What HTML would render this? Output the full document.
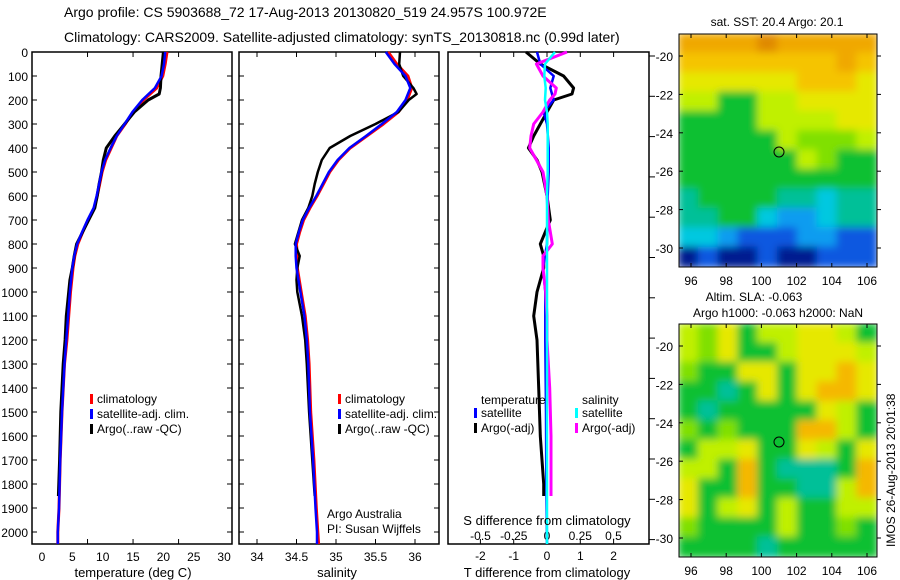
<!DOCTYPE html>
<html><head><meta charset="utf-8">
<style>
html,body{margin:0;padding:0;background:#fff;}
svg{display:block;font-family:"Liberation Sans",sans-serif;}
text{fill:#000;}
</style></head>
<body>
<svg id="fig" width="900" height="580" viewBox="0 0 900 580" xmlns="http://www.w3.org/2000/svg">
<defs>
<filter id="blur" x="0" y="0" width="1" height="1"><feGaussianBlur stdDeviation="4"/></filter>
<clipPath id="clip1"><rect x="679" y="34" width="198" height="233"/></clipPath>
<clipPath id="clip2"><rect x="679" y="324" width="198" height="233"/></clipPath>
</defs>
<text x="64" y="17" font-size="14">Argo profile: CS 5903688_72 17-Aug-2013 20130820_519 24.957S 100.972E</text>
<text x="64" y="42" font-size="14">Climatology: CARS2009. Satellite-adjusted climatology: synTS_20130818.nc (0.99d later)</text>
<g id="p1"></g>
<g id="p2"></g>
<g id="p3"></g>
<g id="m1"></g>
<g id="m2"></g>
<text x="133" y="577" font-size="13" text-anchor="middle">temperature (deg C)</text>
<text x="337" y="577" font-size="13" text-anchor="middle">salinity</text>
<text x="547" y="577" font-size="13" text-anchor="middle">T difference from climatology</text>
<text x="547" y="525" font-size="13" text-anchor="middle">S difference from climatology</text>
<text x="327" y="518" font-size="12">Argo Australia</text>
<text x="327" y="533" font-size="12">PI: Susan Wijffels</text>
<text x="777" y="26" font-size="12" text-anchor="middle">sat. SST: 20.4 Argo: 20.1</text>
<text x="754" y="301" font-size="12" text-anchor="middle">Altim. SLA: -0.063</text>
<text x="778" y="317" font-size="12" text-anchor="middle">Argo h1000: -0.063 h2000: NaN</text>
<text transform="translate(895,547) rotate(-90)" font-size="12">IMOS 26-Aug-2013 20:01:38</text>
</svg>
<script>
// ---- data ----
const depthClim = [0,50,100,150,200,250,300,350,400,450,500,550,600,650,700,750,800,850,900,1000,1100,1200,1300,1500,1700,1900,2000,2050];
const tempClim = [20.6,20.3,19.9,18.9,16.7,15.0,13.7,12.3,11.4,10.5,9.9,9.5,9.1,8.6,7.6,6.7,5.9,5.4,5.1,4.7,4.4,4.1,3.7,3.3,3.0,2.8,2.6,2.6];
const tempSat = [20.3,20.1,19.7,18.6,16.5,14.9,13.6,12.3,11.3,10.4,9.8,9.4,9.0,8.5,7.5,6.6,5.8,5.3,5.0,4.6,4.3,4.0,3.7,3.3,3.0,2.8,2.6,2.6];
const salClim = [35.66,35.77,35.91,35.96,35.90,35.79,35.60,35.39,35.18,35.03,34.92,34.84,34.76,34.67,34.59,34.54,34.50,34.51,34.51,34.56,34.61,34.64,34.66,34.68,34.72,34.75,34.77,34.78];
const salSat = [35.63,35.74,35.88,35.94,35.88,35.77,35.58,35.38,35.17,35.02,34.91,34.83,34.75,34.66,34.58,34.53,34.49,34.49,34.50,34.55,34.60,34.63,34.65,34.67,34.71,34.74,34.76,34.76];
const depthArgo = [0,50,100,150,175,200,250,300,350,400,450,500,550,600,650,700,800,850,900,950,1000,1100,1200,1300,1500,1700,1850];
const tempArgo = [20.0,19.8,19.6,19.5,19.3,17.5,15.2,13.6,12.0,10.6,10.1,9.8,9.4,9.1,8.7,7.7,5.7,5.3,5.0,4.6,4.4,4.0,3.8,3.5,3.1,2.9,2.7];
const salArgo = [35.81,35.80,35.85,35.98,36.02,35.92,35.79,35.50,35.18,34.92,34.82,34.77,34.73,34.70,34.65,34.57,34.48,34.54,34.51,34.50,34.51,34.57,34.61,34.63,34.66,34.70,34.73];
const depthDiff = [0,50,100,150,175,200,250,300,350,400,450,500,600,700,800,850,900,1000,1100,1200,1400,1600,1800,1850];
const tDiffArgo = [-0.63,-0.2,0.5,0.8,0.75,0.2,0,-0.2,-0.4,-0.56,-0.3,-0.15,0,0.1,-0.2,-0.1,-0.1,-0.3,-0.4,-0.3,-0.25,-0.2,-0.1,-0.1];
const sDiffArgo = [0.15,-0.08,-0.03,0.07,0.06,0.02,-0.03,-0.1,-0.12,-0.13,-0.08,-0.03,0,0.01,0.04,-0.03,-0.03,-0.01,0,0,0.02,0.03,0.03,0.03];
const depthSat = [0,50,100,150,200,250,300,400,500,600,800,900,1000,1200,1500,1800,2050];
const tDiffSat = [-0.3,-0.2,0.2,0.1,0.2,-0.1,0,0.05,0.05,0.02,0.0,-0.12,-0.05,-0.05,-0.03,-0.02,0];
const sDiffSat = [0.06,-0.015,-0.02,-0.01,-0.015,0,0.005,0.005,0.005,0,0,0,0,0,0,0,0];
const depthTicks = [0,100,200,300,400,500,600,700,800,900,1000,1100,1200,1300,1400,1500,1600,1700,1800,1900,2000];
const tempTicks = [0,5,10,15,20,25,30];
const salTicks = [34,34.5,35,35.5,36];
const tDiffTicks = [-2,-1,0,1,2];
const sDiffTicks = [-0.5,-0.25,0,0.25,0.5];
const sDiffTickLabels = ["-0.5","-0.25","0","0.25","0.5"];
const lonTicks = [96,98,100,102,104,106];
const latTicks = [-20,-22,-24,-26,-28,-30];
const sstGrid = [
"OOOODOOOOO","llllllllOl","yyyyyyllly","ggGGggyyyy","GGGGggggyy","GGGGGgmmmg",
"GGGGGGgmGG","GGGGGGGGGG","TGGGGTTCTT","TTGGCBBCTT","CCBLLLBBLL","NLNNLNNLLL"];
const slaGrid = [
"gmyGggyygG","gmyGGgyyyg","mGGyyGyyoy","GGTGyGyooy","GTGGGGGygG","mGmGGGoogG",
"GggyGGygGy","ggGoGTTTGo","yGGoGGTTgo","yGgyGgGGgg","mGGGGgGGmG","GGGGTGGGGG"];
const colorKey = {D:"#e08a00",O:"#f0a800",o:"#f5b800",l:"#f5c400",y:"#e6e800",g:"#c0f000",m:"#80e000",G:"#10c030",T:"#00c098",C:"#00c8e0",B:"#109cf0",L:"#0858e0",N:"#001a90"};

const NS="http://www.w3.org/2000/svg";
function mk(parent,tag,attrs){const e=document.createElementNS(NS,tag);for(const k in attrs)e.setAttribute(k,attrs[k]);parent.appendChild(e);return e;}

// axis functions
const yD = d => 52 + d*0.24;
const xT = t => 42 + t*6.07;
const xS = s => 257 + (s-34)*79;
const xTd = t => 547 + t*33.3;
const xSd = s => 547 + s*133;
const xLon = l => 691 + (l-96)*17.6;
const yLat1 = l => 56 + (-20-l)*19.2;
const yLat2 = l => 346 + (-20-l)*19.2;
const TOP=52, BOT=544;

function frame(g,x0,x1){
  const r=mk(g,'rect',{x:x0,y:TOP,width:x1-x0,height:BOT-TOP,fill:'none',stroke:'#000','stroke-width':1.5});
  
  
}
function xtick(g,x){mk(g,'line',{x1:x,x2:x,y1:TOP,y2:TOP+5,stroke:'#000'});mk(g,'line',{x1:x,x2:x,y1:BOT-5,y2:BOT,stroke:'#000'});}
function line(g,xs,ys,xf,color,w,name){
  const pts=xs.map((v,i)=>xf(v).toFixed(1)+','+yD(ys[i]).toFixed(1)).join(' ');
  const p=mk(g,'polyline',{points:pts,fill:'none',stroke:color,'stroke-width':w,'stroke-linejoin':'round'});
  
  
}
function legend(g,x,y,color,label){
  const r=mk(g,'rect',{x:x,y:y-9,width:3,height:10,fill:color});
  
  
  const t=mk(g,'text',{x:x+7,y:y,'font-size':12});t.textContent=label;
  
  
}

// Panel 1
const p1=document.getElementById('p1');
frame(p1,32,232);
depthTicks.forEach(d=>{
  mk(p1,'line',{x1:32,x2:37,y1:yD(d),y2:yD(d),stroke:'#000'});
  mk(p1,'line',{x1:227,x2:232,y1:yD(d),y2:yD(d),stroke:'#000'});
  const t=mk(p1,'text',{x:28,y:yD(d)+5,'font-size':12,'text-anchor':'end'});t.textContent=d;
  
  
});
[7.5,15,22.5].forEach(v=>xtick(p1,xT(v)));
tempTicks.forEach(v=>{const t=mk(p1,'text',{x:xT(v),y:561,'font-size':12,'text-anchor':'middle'});t.textContent=v;
  
  });
line(p1,tempClim,depthClim,xT,'#ff0000',3,'temperature-climatology-line');
line(p1,tempArgo,depthArgo,xT,'#000000',3,'temperature-argo-line');
line(p1,tempSat,depthClim,xT,'#0000ff',2.5,'temperature-satellite-line');
legend(p1,90,403,'#ff0000','climatology');
legend(p1,90,418,'#0000ff','satellite-adj. clim.');
legend(p1,90,433,'#000000','Argo(..raw -QC)');

// Panel 2
const p2=document.getElementById('p2');
frame(p2,239,439);
depthTicks.forEach(d=>{
  mk(p2,'line',{x1:239,x2:244,y1:yD(d),y2:yD(d),stroke:'#000'});
  mk(p2,'line',{x1:434,x2:439,y1:yD(d),y2:yD(d),stroke:'#000'});
});
salTicks.forEach(v=>{xtick(p2,xS(v));
  const t=mk(p2,'text',{x:xS(v),y:561,'font-size':12,'text-anchor':'middle'});t.textContent=v;
  
  });
line(p2,salClim,depthClim,xS,'#ff0000',3,'salinity-climatology-line');
line(p2,salArgo,depthArgo,xS,'#000000',2.5,'salinity-argo-line');
line(p2,salSat,depthClim,xS,'#0000ff',2.5,'salinity-satellite-line');
legend(p2,338,403,'#ff0000','climatology');
legend(p2,338,418,'#0000ff','satellite-adj. clim.');
legend(p2,338,433,'#000000','Argo(..raw -QC)');

// Panel 3
const p3=document.getElementById('p3');
frame(p3,448,649);
for(let i=0;i<13;i++){const y=56+i*40.3;mk(p3,'line',{x1:649,x2:655,y1:y,y2:y,stroke:'#000'});}
tDiffTicks.forEach(v=>{xtick(p3,xTd(v));
  const t=mk(p3,'text',{x:xTd(v),y:560,'font-size':12,'text-anchor':'middle'});t.textContent=v;
  
  });
sDiffTicks.forEach((v,i)=>{const t=mk(p3,'text',{x:xSd(v),y:540,'font-size':12,'text-anchor':'middle'});t.textContent=sDiffTickLabels[i];
  
  });
line(p3,tDiffArgo,depthDiff,xTd,'#000000',3,'t-diff-argo-line');
line(p3,tDiffSat,depthSat,xTd,'#0000ff',2.5,'t-diff-satellite-line');
line(p3,sDiffArgo,depthDiff,xSd,'#ff00ff',3,'s-diff-argo-line');
line(p3,sDiffSat,depthSat,xSd,'#00ffff',2.5,'s-diff-satellite-line');
const tl=mk(p3,'text',{x:481,y:404,'font-size':12});tl.textContent='temperature';


const sl=mk(p3,'text',{x:582,y:404,'font-size':12});sl.textContent='salinity';


legend(p3,474,417,'#0000ff','satellite');
legend(p3,474,432,'#000000','Argo(-adj)');
legend(p3,575,417,'#00ffff','satellite');
legend(p3,575,432,'#ff00ff','Argo(-adj)');

// Maps
function map(gid,grid,yTop,yLat,clipId){
  const g=document.getElementById(gid);
  const inner=mk(g,'g',{'clip-path':'url(#'+clipId+')'});
  const cells=mk(inner,'g',{filter:'url(#blur)'});
  const cw=198/10, ch=233/12;
  grid.forEach((row,r)=>{[...row].forEach((c,k)=>{
    const col = colorKey[c] || '#10c030';
    const rc=mk(cells,'rect',{x:679+k*cw-1,y:yTop+r*ch-1,width:cw+2,height:ch+2,fill:col});
    
    
  });});
  const fr=mk(g,'rect',{x:679,y:yTop,width:198,height:233,fill:'none',stroke:'#000','stroke-width':1});
  
  
  lonTicks.forEach(l=>{mk(g,'line',{x1:xLon(l),x2:xLon(l),y1:yTop,y2:yTop+4,stroke:'#000'});mk(g,'line',{x1:xLon(l),x2:xLon(l),y1:yTop+233,y2:yTop+229,stroke:'#000'});
    const t=mk(g,'text',{x:xLon(l),y:yTop+251,'font-size':12,'text-anchor':'middle'});t.textContent=l;
    
    });
  latTicks.forEach(l=>{mk(g,'line',{x1:679,x2:683,y1:yLat(l),y2:yLat(l),stroke:'#000'});mk(g,'line',{x1:877,x2:881,y1:yLat(l),y2:yLat(l),stroke:'#000'});
    const t=mk(g,'text',{x:673,y:yLat(l)+5,'font-size':12,'text-anchor':'end'});t.textContent=l;
    
    });
  const c=mk(g,'circle',{cx:xLon(101),cy:yLat(-25),r:5,fill:'none',stroke:'#000','stroke-width':1});
  
  
}
map('m1',sstGrid,34,yLat1,'clip1');
map('m2',slaGrid,324,yLat2,'clip2');
</script>
</body></html>
